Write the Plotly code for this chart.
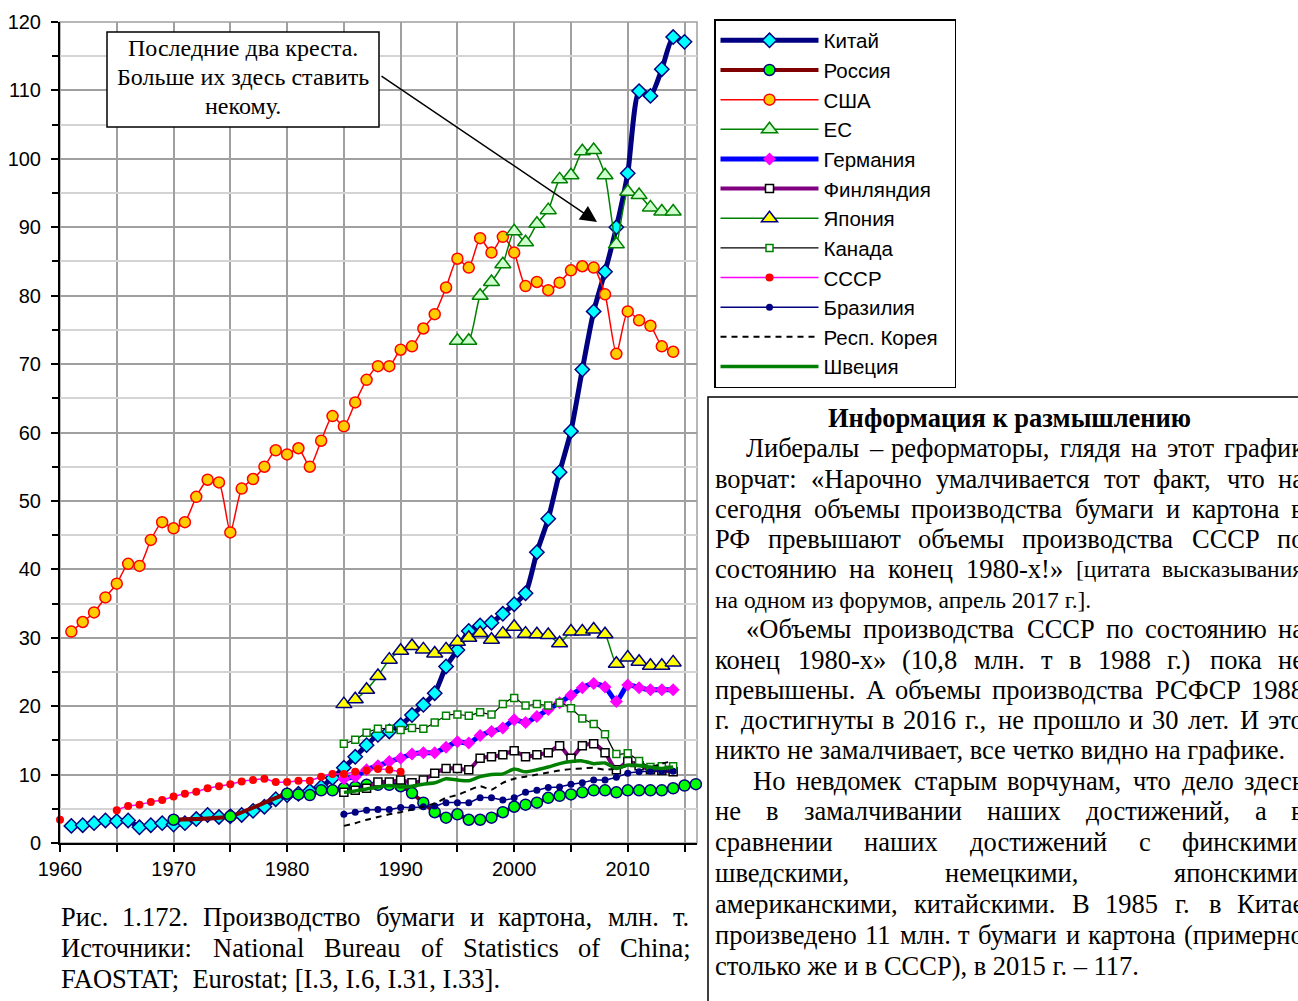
import plotly.graph_objects as go

W, H = 1298, 1001
L, R, T, B = 60, 697, 22, 843   # plot area in page pixels


def px(x):
    return (x - L) / (R - L)


def py(y):
    return (B - y) / (B - T)


# ---------------- data (млн. т) ----------------
years_china = list(range(1961, 2016))
china = [2.5, 2.6, 2.9, 3.3, 3.2, 3.3, 2.3, 2.6, 2.9, 2.7,
         2.9, 3.5, 4.1, 3.8, 3.9, 4.1, 4.7, 5.3, 6.4, 7.0,
         7.2, 7.6, 8.2, 9.5, 11.0, 12.6, 14.3, 15.8, 16.3, 17.2,
         18.7, 20.2, 21.9, 25.8, 28.2, 31.0, 31.8, 32.2, 33.5, 34.9,
         36.5, 42.5, 47.4, 54.2, 60.2, 69.2, 77.7, 83.5, 90.0, 97.9,
         109.9, 109.2, 113.1, 117.8, 117.1]

years_russia = [1970, 1975] + list(range(1980, 2017))
russia = [3.4, 3.9,
          7.2, 7.1, 7.0, 7.7, 7.7, 8.0, 8.2, 8.5, 8.5, 8.5,
          8.3, 7.3, 5.9, 4.5, 3.7, 4.2, 3.4, 3.4, 3.7, 4.5,
          5.3, 5.6, 5.9, 6.6, 6.9, 7.1, 7.4, 7.7, 7.7, 7.4,
          7.7, 7.7, 7.7, 7.7, 8.0, 8.4, 8.6]

years_usa = list(range(1961, 2015))
usa = [30.9, 32.3, 33.7, 35.9, 37.9, 40.8, 40.5, 44.3, 46.9, 46.0,
       46.9, 50.6, 53.1, 52.7, 45.4, 51.8, 53.2, 55.0, 57.4, 56.8,
       57.7, 55.0, 58.8, 62.4, 60.9, 64.4, 67.7, 69.7, 69.7, 72.1,
       72.6, 75.2, 77.3, 81.2, 85.4, 84.1, 88.4, 86.3, 88.6, 86.3,
       81.4, 82.0, 80.8, 81.9, 83.7, 84.3, 84.1, 80.2, 71.5, 77.7,
       76.4, 75.6, 72.6, 71.8]

years_eu = list(range(1995, 2015))
eu = [73.4, 73.4, 80.0, 82.0, 84.6, 89.4, 87.8, 90.5, 92.5, 97.0,
      97.6, 101.1, 101.3, 97.6, 87.5, 95.2, 94.7, 92.9, 92.3, 92.3]

years_85 = list(range(1985, 2015))
germany = [9.4, 9.7, 10.7, 11.3, 11.9, 12.4, 13.0, 13.2, 13.2, 14.0,
           14.8, 14.6, 15.7, 16.3, 16.8, 18.0, 17.6, 18.5, 19.5, 20.5,
           21.6, 22.7, 23.3, 22.8, 20.7, 23.1, 22.7, 22.4, 22.4, 22.4]
finland = [7.4, 7.7, 8.0, 8.9, 8.9, 9.2, 8.8, 9.2, 10.2, 10.9,
           10.9, 10.7, 12.4, 12.6, 12.9, 13.5, 12.6, 12.9, 13.2, 14.2,
           12.4, 14.2, 14.5, 13.2, 10.7, 11.9, 11.3, 10.7, 10.6, 10.4]
japan = [20.3, 21.0, 22.4, 24.4, 26.8, 28.1, 28.8, 28.3, 27.7, 28.3,
         29.4, 30.0, 30.7, 29.7, 30.6, 31.6, 30.6, 30.5, 30.4, 29.2,
         30.9, 30.9, 31.2, 30.5, 26.2, 27.1, 26.5, 25.9, 25.9, 26.4]
canada = [14.5, 15.1, 16.1, 16.7, 16.7, 16.5, 16.8, 16.7, 17.6, 18.6,
          18.8, 18.6, 19.1, 18.8, 20.3, 21.2, 20.1, 20.3, 20.1, 20.5,
          19.7, 18.2, 17.4, 15.9, 13.0, 13.1, 12.0, 11.1, 11.2, 11.2]
brazil = [4.2, 4.5, 4.8, 4.9, 4.9, 5.2, 5.2, 5.3, 5.4, 5.9,
          5.9, 5.9, 6.6, 6.6, 6.3, 6.6, 7.4, 7.7, 8.1, 8.2,
          8.6, 8.8, 9.2, 9.2, 9.6, 10.2, 10.4, 10.5, 10.5, 10.5]
korea = [2.5, 2.9, 3.4, 3.8, 4.2, 4.5, 4.9, 5.3, 5.8, 6.6,
         7.0, 7.7, 8.3, 7.8, 8.8, 9.4, 9.7, 10.0, 10.3, 10.6,
         10.8, 10.9, 11.0, 10.7, 10.9, 11.2, 11.2, 11.1, 11.6, 12.0]
sweden = [7.4, 7.6, 7.9, 8.2, 8.4, 8.2, 8.3, 8.6, 8.8, 9.4,
          9.2, 9.1, 9.7, 10.0, 10.1, 10.8, 10.4, 10.7, 11.1, 11.6,
          11.9, 12.0, 11.6, 11.7, 10.9, 11.4, 11.3, 11.1, 10.9, 11.1]

years_ussr = list(range(1960, 1991))
ussr = [3.4, None, None, None, None, 4.8, 5.4, 5.6, 6.0, 6.3,
        6.8, 7.2, 7.5, 8.0, 8.3, 8.6, 9.0, 9.2, 9.4, 8.9,
        8.9, 9.1, 9.1, 9.7, 10.1, 10.1, 10.4, 10.6, 10.8, 10.7,
        10.4]

x_ticks = [1960, 1970, 1980, 1990, 2000, 2010]
y_ticks = list(range(0, 121, 10))

# ---------------- figure ----------------
fig = go.Figure()
SM = 0.6


def add(name, x, y, lcolor, lwidth, marker=None, dash=None):
    mode = "lines+markers" if marker else "lines"
    fig.add_trace(go.Scatter(
        x=x, y=y, name=name, mode=mode,
        line=dict(color=lcolor, width=lwidth, shape="spline", smoothing=SM,
                  dash=dash if dash else "solid"),
        marker=marker, cliponaxis=False))


add("Китай", years_china, china, "#000080", 5,
    dict(symbol="diamond", size=11, color="#00FFFF", line=dict(color="#000080", width=1.5)))
add("Россия", years_russia, russia, "#800000", 4,
    dict(symbol="circle", size=11, color="#00FF00", line=dict(color="#000080", width=1.5)))
add("США", years_usa, usa, "#FF0000", 1.5,
    dict(symbol="circle", size=11, color="#FFCC00", line=dict(color="#FF0000", width=1.5)))
add("ЕС", years_eu, eu, "#008000", 1.5,
    dict(symbol="triangle-up", size=14, color="#CCFFCC", line=dict(color="#008000", width=1.5)))
add("Германия", years_85, germany, "#0000FF", 5,
    dict(symbol="diamond", size=10, color="#FF00FF", line=dict(width=0)))
add("Финляндия", years_85, finland, "#800080", 4,
    dict(symbol="square", size=8, color="#FFFFFF", line=dict(color="#000000", width=1.5)))
add("Япония", years_85, japan, "#008000", 1.5,
    dict(symbol="triangle-up", size=14, color="#FFFF00", line=dict(color="#000080", width=1.5)))
add("Канада", years_85, canada, "#000000", 1.2,
    dict(symbol="square", size=7, color="#FFFFFF", line=dict(color="#008000", width=1.5)))
add("СССР", years_ussr, ussr, "#FF00FF", 1.5,
    dict(symbol="circle", size=8, color="#FF0000", line=dict(width=0)))
add("Бразилия", years_85, brazil, "#000080", 1.5,
    dict(symbol="circle", size=7, color="#000080", line=dict(width=0)))
add("Респ. Корея\u00a0\u00a0", years_85, korea, "#000000", 2, None, "6px,5px")
add("Швеция", years_85, sweden, "#008000", 3.5)

SANS = "Liberation Sans, Arial, sans-serif"
SERIF = "Liberation Serif, Times New Roman, serif"

fig.update_layout(
    width=W, height=H,
    margin=dict(l=L, r=W - R, t=T, b=H - B, pad=0),
    paper_bgcolor="white", plot_bgcolor="white",
    showlegend=True,
    legend=dict(x=px(714), y=py(19), xanchor="left", yanchor="top",
                bgcolor="white", bordercolor="black", borderwidth=1.5,
                font=dict(family=SANS, size=20.5, color="black"),
                itemwidth=98, traceorder="normal"),
    xaxis=dict(range=[1960, 2016.1], tickvals=x_ticks, showgrid=True, automargin=False,
               gridcolor="#a0a0a0", gridwidth=1.5, ticks="outside", ticklen=7,
               tickwidth=1.5, tickcolor="black", showline=True, linecolor="black",
               linewidth=2, zeroline=False,
               tickfont=dict(family=SANS, size=20, color="black"),
               minor=dict(dtick=5, tick0=1960, showgrid=True, gridcolor="#a0a0a0",
                          gridwidth=1.5, ticks="outside", ticklen=7, tickcolor="black")),
    yaxis=dict(range=[0, 120], tickvals=y_ticks, showgrid=True, automargin=False,
               gridcolor="#a0a0a0", gridwidth=1.5, ticks="outside", ticklen=7,
               tickwidth=1.5, tickcolor="black", showline=True, linecolor="black",
               linewidth=2, zeroline=False, ticklabelstandoff=6,
               tickfont=dict(family=SANS, size=20, color="black"),
               minor=dict(dtick=5, tick0=0, showgrid=True, gridcolor="#d4d4d4",
                          gridwidth=1.5, ticks="outside", ticklen=6, tickcolor="black")),
)

shapes = []
shapes.append(dict(type="rect", xref="paper", yref="paper", x0=0, x1=1, y0=0, y1=1,
                   line=dict(color="#a0a0a0", width=1.5), layer="below"))
shapes.append(dict(type="rect", xref="paper", yref="paper", x0=px(107), x1=px(379),
                   y0=py(127), y1=py(32), line=dict(color="black", width=1.5),
                   fillcolor="white", layer="above"))
shapes.append(dict(type="rect", xref="paper", yref="paper", x0=px(708), x1=px(1330),
                   y0=py(1030), y1=py(397), line=dict(color="black", width=1.5),
                   fillcolor="rgba(0,0,0,0)", layer="above"))
fig.update_layout(shapes=shapes)

ann = []
for txt, yy in [("Последние два креста.", 48), ("Больше их здесь ставить", 77), ("некому.", 106)]:
    ann.append(dict(x=px(243), y=py(yy), xref="paper", yref="paper", text=txt,
                    showarrow=False, xanchor="center", yanchor="middle",
                    font=dict(family=SERIF, size=24, color="black")))
ann.append(dict(x=px(597), y=py(222), xref="paper", yref="paper", text="",
                showarrow=True, ax=380 - 597, ay=75 - 222, axref="pixel", ayref="pixel",
                arrowhead=2, arrowsize=2.2, arrowwidth=1.5, arrowcolor="black",
                standoff=0, startstandoff=0))

# ---- Times-metric widths (per 1000 em) for justified text layout ----
CW = {}
for chars, w in [("абвгдеёжзийклмнопрстуфхцчшщъыьэюя",
                  [444, 500, 472, 410, 509, 444, 444, 691, 395, 535, 535, 486, 499, 633, 535, 500,
                   535, 500, 444, 437, 500, 648, 500, 535, 503, 770, 770, 517, 672, 456, 429, 747, 460]),
                 ("АБВГДЕЁЖЗИЙКЛМНОПРСТУФХЦЧШЩЪЫЬЭЮЯ",
                  [722, 574, 667, 578, 682, 611, 611, 896, 501, 722, 722, 655, 678, 889, 722, 722,
                   722, 556, 667, 611, 715, 789, 722, 725, 668, 1021, 1021, 706, 889, 574, 667, 1031, 667]),
                 ("abcdefghijklmnopqrstuvwxyz",
                  [444, 500, 444, 500, 444, 333, 500, 500, 278, 278, 500, 278, 778, 500, 500, 500,
                   500, 333, 389, 278, 500, 500, 722, 500, 500, 444]),
                 ("ABCDEFGHIJKLMNOPQRSTUVWXYZ",
                  [722, 667, 667, 722, 611, 556, 722, 722, 333, 389, 722, 611, 889, 722, 722, 556,
                   722, 667, 556, 611, 722, 722, 944, 722, 722, 611])]:
    for c, v in zip(chars, w):
        CW[c] = v
for c in "0123456789":
    CW[c] = 500
CW.update({".": 250, ",": 250, ":": 278, ";": 278, "-": 333, "–": 500, "«": 500, "»": 500,
           "(": 333, ")": 333, "[": 333, "]": 333, "!": 333, " ": 250})


def tw(s, size):
    return sum(CW.get(c, 500) for c in s) / 1000.0 * size


def put(x, y, text, size, anchor="left"):
    ann.append(dict(x=px(x), y=py(y), xref="paper", yref="paper", text=text,
                    showarrow=False, xanchor=anchor, yanchor="middle", borderpad=0,
                    font=dict(family=SERIF, size=size, color="black")))


def justify(words, x0, x1, y, sizes):
    widths = [tw(w, s) for w, s in zip(words, sizes)]
    gap = (x1 - x0 - sum(widths)) / (len(words) - 1)
    x = x0
    for w, s, wd in zip(words, sizes, widths):
        put(x, y, w, s)
        x += wd + gap


FS = 26.5
SMALL = 23.5
RJ = 1303

put(1009, 418, "<b>Информация к размышлению</b>", FS, "center")
info_just = [
    (745, 448, "Либералы – реформаторы, глядя на этот график"),
    (714, 479, "ворчат: «Нарочно умалчивается тот факт, что на"),
    (714, 509, "сегодня объемы производства бумаги и картона в"),
    (714, 539, "РФ превышают объемы производства СССР по"),
    (745, 629, "«Объемы производства СССР по состоянию на"),
    (714, 660, "конец 1980-х» (10,8 млн. т в 1988 г.) пока не"),
    (714, 690, "превышены. А объемы производства РСФСР 1988"),
    (714, 720, "г. достигнуты в 2016 г., не прошло и 30 лет. И это"),
    (752, 781, "Но невдомек старым ворчунам, что дело здесь"),
    (714, 811, "не в замалчивании наших достижений, а в"),
    (714, 842, "сравнении наших достижений с финскими,"),
    (714, 873, "шведскими, немецкими, японскими,"),
    (714, 904, "американскими, китайскими. В 1985 г. в Китае"),
    (714, 935, "произведено 11 млн. т бумаги и картона (примерно"),
]
for x0, yy, s in info_just:
    ws = s.split(" ")
    justify(ws, x0, RJ, yy, [FS] * len(ws))

mixed = ["состоянию", "на", "конец", "1980-х!»", "[цитата", "высказывания"]
justify(mixed, 714, RJ, 569, [FS, FS, FS, FS, SMALL, SMALL])
put(714, 600, "на одном из форумов, апрель 2017 г.].", SMALL)
put(714, 750, "никто не замалчивает, все четко видно на графике.", FS)
put(714, 966, "столько же и в СССР), в 2015 г. – 117.", FS)

# caption
justify("Рис. 1.172. Производство бумаги и картона, млн. т.".split(" "), 60, 690, 917, [FS] * 8)
justify("Источники: National Bureau of Statistics of China;".split(" "), 60, 690, 948, [FS] * 7)
put(60, 979, "FAOSTAT;\u00a0 Eurostat; [I.3, I.6, I.31, I.33].", FS)

fig.update_layout(annotations=ann)
fig.write_html("out.html",
               config={"displayModeBar": False},
               post_script="document.body.style.margin='0px';"
                           "document.body.style.overflow='hidden';")
